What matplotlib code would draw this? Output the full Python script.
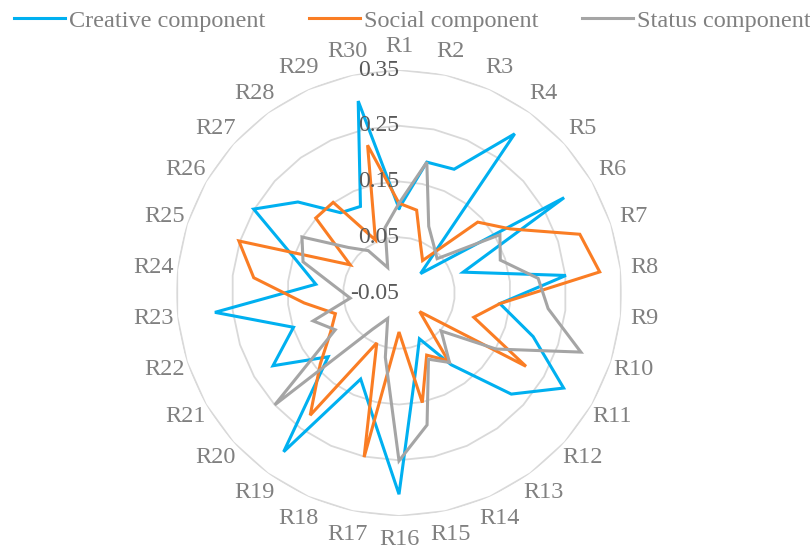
import numpy as np
import matplotlib
matplotlib.use("Agg")
import matplotlib.pyplot as plt

categories = [f"R{i}" for i in range(1, 31)]
creative = [0.102, 0.190, 0.193, 0.303, 0.002, 0.292, 0.071, 0.251, 0.132, 0.203,
            0.291, 0.221, 0.109, 0.040, 0.093, 0.311, 0.176, 0.119, 0.302, 0.121,
            0.211, 0.149, 0.282, 0.100, 0.145, 0.251, 0.194, 0.128, 0.120, 0.302]
social = [0.111, 0.102, 0.045, 0.022, 0.140, 0.180, 0.291, 0.312, 0.132, 0.091,
          0.213, 0.000, 0.100, 0.072, 0.151, 0.020, 0.251, 0.048, 0.221, 0.140,
          0.092, 0.070, 0.121, 0.212, 0.252, 0.051, 0.151, 0.151, 0.054, 0.221]
status = [0.111, 0.190, 0.081, 0.056, 0.042, 0.159, 0.141, 0.201, 0.219, 0.293,
          0.151, 0.052, 0.104, 0.080, 0.192, 0.251, 0.068, 0.000, 0.030, 0.250,
          0.082, 0.112, 0.038, 0.066, 0.131, 0.151, 0.072, 0.044, 0.000, 0.070]
series_names = ["Creative component", "Social component", "Status component"]
colors = ["#00B0F0", "#FA7D24", "#A5A5A5"]
ticks = [-0.05, 0.05, 0.15, 0.25, 0.35]
tick_labels = ["-0.05", "0.05", "0.15", "0.25", "0.35"]

plt.rcParams["font.family"] = ["Liberation Serif", "DejaVu Serif"]

fig = plt.figure(figsize=(8.1, 5.49), dpi=100)
ax = fig.add_axes([0.2173, 0.0601, 0.5506, 0.8124], projection="polar")
ax.set_theta_zero_location("N")
ax.set_theta_direction(-1)
ax.set_ylim(ticks[0], ticks[-1])
ax.grid(False)
ax.spines["polar"].set_visible(False)
ax.set_xticks([])
ax.set_yticks([])
ax.patch.set_alpha(0)

n = len(categories)
theta = np.arange(n) * 2 * np.pi / n
theta_c = np.append(theta, theta[0])

for t in ticks[1:]:
    ax.plot(theta_c, [t] * (n + 1), color="#D9D9D9", lw=1.3, zorder=1)

for vals, name, c in zip([creative, social, status], series_names, colors):
    v = np.append(vals, vals[0])
    ax.plot(theta_c, v, color=c, lw=2.2, label=name, zorder=3,
            solid_joinstyle="miter")

for t, lab in zip(ticks, tick_labels):
    ax.text(0, t, lab, ha="right", va="center", fontsize=17, color="#595959",
            zorder=4)

r_lab = 0.392
for th, lab in zip(theta, categories):
    ax.text(th, r_lab, lab, ha="center", va="center", fontsize=17.5,
            color="#808080", clip_on=False)

leg = fig.legend(loc="center", bbox_to_anchor=(0.509, 0.962), ncol=3,
                 frameon=False, fontsize=17.5, handlelength=2.1,
                 handletextpad=0.15, columnspacing=1.8, labelcolor="#808080")
for h in leg.legend_handles:
    h.set_linewidth(2.2)

fig.savefig("out.png", dpi=100)
